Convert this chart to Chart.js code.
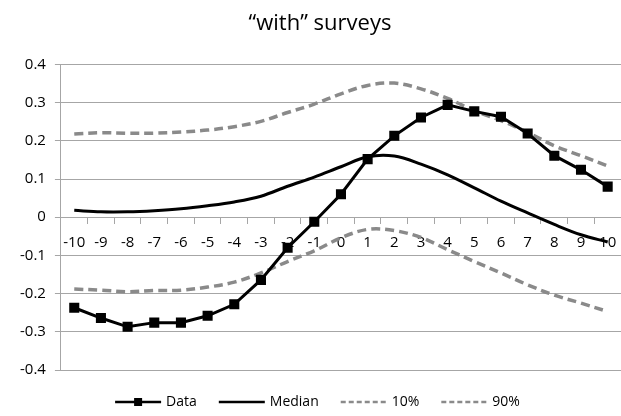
<!DOCTYPE html>
<html>
<head>
<meta charset="utf-8">
<script src="https://cdn.jsdelivr.net/npm/chart.js@4/dist/chart.umd.min.js"></script>
<style>
  html, body { margin: 0; padding: 0; background: #fff; overflow: hidden; width: 621px; height: 416px; }
  #wrap { width: 629px; height: 416px; position: relative; }
</style>
</head>
<body>
<div id="wrap"><canvas id="chart"></canvas></div>
<script>
// Chart data
const labels = ['-10', '-9', '-8', '-7', '-6', '-5', '-4', '-3', '-2', '-1', '0',
                '1', '2', '3', '4', '5', '6', '7', '8', '9', '10'];
const dataSeries = [-0.237, -0.264, -0.287, -0.276, -0.276, -0.258, -0.228, -0.164, -0.080, -0.012, 0.060,
                    0.152, 0.213, 0.261, 0.294, 0.277, 0.263, 0.219, 0.161, 0.124, 0.080];
const medianSeries = [0.018, 0.014, 0.014, 0.017, 0.022, 0.030, 0.040, 0.055, 0.081, 0.105, 0.132,
                      0.158, 0.160, 0.139, 0.111, 0.077, 0.042, 0.011, -0.019, -0.046, -0.065];
const p10Series = [-0.188, -0.191, -0.195, -0.192, -0.191, -0.183, -0.170, -0.146, -0.116, -0.088, -0.054,
                   -0.032, -0.035, -0.053, -0.085, -0.116, -0.146, -0.177, -0.204, -0.225, -0.247];
const p90Series = [0.218, 0.221, 0.220, 0.220, 0.223, 0.228, 0.237, 0.251, 0.274, 0.296, 0.323,
                   0.345, 0.351, 0.336, 0.311, 0.279, 0.253, 0.222, 0.187, 0.161, 0.134];

const FONT = '"Open Sans", "Noto Sans", sans-serif';
const GRID = '#a6a6a6';
const DASH_GREY = '#8a8a8a';

// Legend drawn at the bottom, Excel style
const bottomLegend = {
    id: 'bottomLegend',
    afterDraw(chart) {
        const ctx = chart.ctx;
        const sets = chart.data.datasets;
        const sample = 46, gapText = 5, gapItem = 22;
        ctx.save();
        ctx.font = '14px ' + FONT;
        const widths = sets.map(ds => sample + gapText + ctx.measureText(ds.label).width);
        const total = widths.reduce((a, b) => a + b, 0) + gapItem * (sets.length - 1);
        let x = (chart.width - total) / 2 + 3;
        const y = 402;
        sets.forEach((ds, i) => {
            ctx.strokeStyle = ds.borderColor;
            ctx.lineWidth = 2.5;
            ctx.setLineDash(ds.borderDash ? [5, 3] : []);
            ctx.beginPath();
            ctx.moveTo(x, y);
            ctx.lineTo(x + sample, y);
            ctx.stroke();
            ctx.setLineDash([]);
            if (ds.pointRadius > 0) {
                ctx.fillStyle = ds.pointBackgroundColor;
                ctx.fillRect(x + sample / 2 - 4, y - 4, 8, 8);
            }
            ctx.fillStyle = '#000';
            ctx.textBaseline = 'middle';
            ctx.textAlign = 'left';
            ctx.fillText(ds.label, x + sample + gapText, y);
            x += widths[i] + gapItem;
        });
        ctx.restore();
    }
};

const ctx = document.getElementById('chart').getContext('2d');
const chart = new Chart(ctx, {
    type: 'line',
    data: {
        labels: labels,
        datasets: [{
            label: 'Data',
            data: dataSeries,
            borderColor: '#000',
            borderWidth: 3,
            pointStyle: 'rect',
            pointRadius: 5,
            pointBackgroundColor: '#000',
            pointBorderColor: '#000',
            tension: 0
        }, {
            label: 'Median',
            data: medianSeries,
            borderColor: '#000',
            borderWidth: 3,
            pointRadius: 0,
            tension: 0.35
        }, {
            label: '10%',
            data: p10Series,
            borderColor: DASH_GREY,
            borderWidth: 3.5,
            borderDash: [9, 5],
            pointRadius: 0,
            tension: 0.35
        }, {
            label: '90%',
            data: p90Series,
            borderColor: DASH_GREY,
            borderWidth: 3.5,
            borderDash: [9, 5],
            pointRadius: 0,
            tension: 0.35
        }]
    },
    options: {
        responsive: true,
        maintainAspectRatio: false,
        animation: false,
        layout: {
            padding: { left: 11, right: 0, top: 0, bottom: 46 }
        },
        plugins: {
            legend: { display: false },
            tooltip: { enabled: false },
            title: {
                display: true,
                text: '\u201cwith\u201d surveys',
                color: '#000',
                font: { family: FONT, size: 22, weight: 'normal' },
                padding: { top: 11, bottom: 27 }
            }
        },
        scales: {
            x: {
                position: { y: 0 },
                offset: true,
                grid: {
                    offset: true,
                    drawOnChartArea: false,
                    color: GRID,
                    tickLength: 6
                },
                border: { display: true, color: GRID, width: 1 },
                ticks: {
                    color: '#000',
                    font: { family: FONT, size: 15, lineHeight: 2.2 },
                    padding: 3,
                    maxRotation: 0,
                    autoSkip: false
                }
            },
            y: {
                min: -0.4,
                max: 0.4,
                grid: { color: GRID, tickLength: 6 },
                border: { display: true, color: GRID },
                ticks: {
                    stepSize: 0.1,
                    color: '#000',
                    font: { family: FONT, size: 15 },
                    padding: 9,
                    callback: function (value) {
                        const v = Math.round(value * 10) / 10;
                        return v === 0 ? '0' : v.toString();
                    }
                }
            }
        }
    },
    plugins: [bottomLegend]
});
</script>
</body>
</html>
